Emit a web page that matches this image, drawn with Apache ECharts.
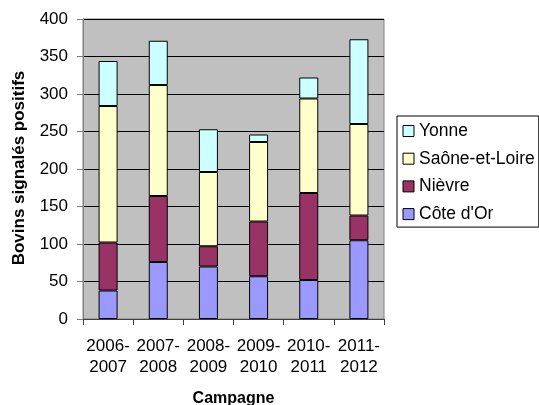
<!DOCTYPE html>
<html>
<head>
<meta charset="utf-8">
<script src="https://cdn.jsdelivr.net/npm/echarts@6/dist/echarts.min.js"></script>
<style>html,body{margin:0;padding:0;background:#fff;}#c{width:539px;height:405px;}</style>
</head>
<body>
<div id="c"></div>
<script>
const categories = ['2006-\n2007', '2007-\n2008', '2008-\n2009', '2009-\n2010', '2010-\n2011', '2011-\n2012'];
const coteDOr = [38, 76, 70, 57, 52, 105];
const nievre = [64, 88, 27, 73, 116, 33];
const saoneEtLoire = [182, 148, 99, 106, 126, 122];
const yonne = [60, 59, 57, 10, 28, 113];
const yTicks = [0, 50, 100, 150, 200, 250, 300, 350, 400];
const yTitle = 'Bovins signalés positifs';

const FONT = '"Liberation Sans", Arial, sans-serif';
const chart = echarts.init(document.getElementById('c'), null, {renderer: 'canvas'});
function bar(name, data, color) {
  return {
    name: name, type: 'bar', stack: 'total', data: data, barWidth: 19,
    itemStyle: {color: color, borderColor: '#000', borderWidth: 1},
    emphasis: {disabled: true}
  };
}
chart.setOption({
  animation: false,
  textStyle: {fontFamily: FONT},
  grid: {left: 83, top: 19, width: 301, height: 300, show: true,
         containLabel: false, outerBoundsMode: 'none',
         backgroundColor: '#C0C0C0', borderColor: '#808080', borderWidth: 1},
  graphic: [{
    type: 'text', x: 19, y: 168, rotation: Math.PI / 2,
    style: {text: yTitle, font: 'bold 17px "Liberation Sans", Arial, sans-serif',
            fill: '#000', align: 'center', verticalAlign: 'middle'}
  }],
  legend: {
    orient: 'vertical', left: 397, top: 116,
    data: ['Yonne', 'Saône-et-Loire', 'Nièvre', "Côte d'Or"],
    itemWidth: 11, itemHeight: 11, itemGap: 9.7,
    icon: 'rect',
    padding: [6, 4, 4, 5.5],
    borderColor: '#000', borderWidth: 1,
    itemStyle: {borderColor: '#000', borderWidth: 1},
    textStyle: {fontFamily: FONT, fontSize: 17.5, color: '#000', lineHeight: 17}
  },
  xAxis: {
    type: 'category', data: categories,
    name: 'Campagne', nameLocation: 'middle', nameGap: 72,
    nameTextStyle: {fontFamily: FONT, fontSize: 16, fontWeight: 'bold', color: '#000'},
    axisLine: {lineStyle: {color: '#404040', width: 1}},
    axisTick: {show: true, alignWithLabel: false, length: 6, lineStyle: {color: '#404040'}},
    axisLabel: {fontFamily: FONT, fontSize: 17, color: '#000', lineHeight: 21, margin: 17, interval: 0}
  },
  yAxis: {
    type: 'value', min: yTicks[0], max: yTicks[yTicks.length - 1], interval: 50,
    axisLine: {show: true, lineStyle: {color: '#808080', width: 1}},
    axisTick: {show: true, length: 6, lineStyle: {color: '#808080'}},
    splitLine: {show: true, lineStyle: {color: '#000', width: 1}},
    axisLabel: {fontFamily: FONT, fontSize: 17, color: '#000', margin: 15}
  },
  series: [
    bar("Côte d'Or", coteDOr, '#9999FF'),
    bar('Nièvre', nievre, '#993366'),
    bar('Saône-et-Loire', saoneEtLoire, '#FFFFCC'),
    bar('Yonne', yonne, '#CCFFFF')
  ]
});
</script>
</body>
</html>
